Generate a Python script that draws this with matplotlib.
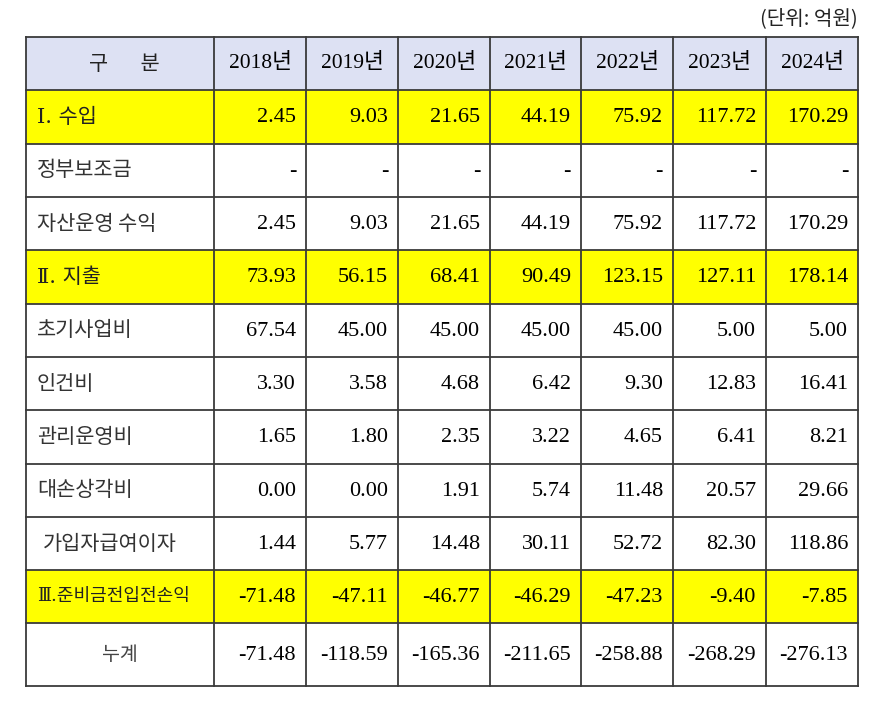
import matplotlib.pyplot as plt
from matplotlib.patches import Rectangle

years = ['2018년', '2019년', '2020년', '2021년', '2022년', '2023년', '2024년']
labels = ['Ⅰ. 수입', '정부보조금', '자산운영 수익', 'Ⅱ. 지출', '초기사업비', '인건비',
          '관리운영비', '대손상각비', '가입자급여이자', 'Ⅲ.준비금전입전손익', '누계']
income = [2.45, 9.03, 21.65, 44.19, 75.92, 117.72, 170.29]
subsidy = [None] * 7
asset_return = [2.45, 9.03, 21.65, 44.19, 75.92, 117.72, 170.29]
expense = [73.93, 56.15, 68.41, 90.49, 123.15, 127.11, 178.14]
startup = [67.54, 45.00, 45.00, 45.00, 45.00, 5.00, 5.00]
labor = [3.30, 3.58, 4.68, 6.42, 9.30, 12.83, 16.41]
admin = [1.65, 1.80, 2.35, 3.22, 4.65, 6.41, 8.21]
bad_debt = [0.00, 0.00, 1.91, 5.74, 11.48, 20.57, 29.66]
interest = [1.44, 5.77, 14.48, 30.11, 52.72, 82.30, 118.86]
pre_reserve = [-71.48, -47.11, -46.77, -46.29, -47.23, -9.40, -7.85]
cumulative = [-71.48, -118.59, -165.36, -211.65, -258.88, -268.29, -276.13]

rows = [income, subsidy, asset_return, expense, startup, labor, admin,
        bad_debt, interest, pre_reserve, cumulative]
highlight = [True, False, False, True, False, False, False, False, False, True, False]

# layout in pixels
W, H = 892, 719
col_edges = [26, 214, 306, 398, 490, 581, 673, 766, 858]
row_edges = [37, 90, 144, 197, 250, 304, 357, 410, 464, 517, 570, 623, 686]

num_font = 'Liberation Serif'
kr_font = ['Noto Sans CJK KR', 'DejaVu Sans']
mixed_font = ['Liberation Serif', 'Noto Sans CJK KR']
roman_font = ['DejaVu Serif', 'Noto Sans CJK KR']

fig = plt.figure(figsize=(W / 100, H / 100), dpi=100)
ax = fig.add_axes([0, 0, 1, 1])
ax.set_xlim(0, W)
ax.set_ylim(H, 0)
ax.axis('off')

# backgrounds
ax.add_patch(Rectangle((col_edges[0], row_edges[0]), col_edges[-1] - col_edges[0],
                       row_edges[1] - row_edges[0], facecolor='#dde1f3', edgecolor='none'))
for i, hl in enumerate(highlight):
    if hl:
        y0 = row_edges[i + 1]
        ax.add_patch(Rectangle((col_edges[0], y0), col_edges[-1] - col_edges[0],
                               row_edges[i + 2] - y0, facecolor='#ffff00', edgecolor='none'))

# grid lines
for x in col_edges:
    ax.plot([x, x], [row_edges[0], row_edges[-1]], color='#3a3a3a', lw=1.3)
for y in row_edges:
    ax.plot([col_edges[0], col_edges[-1]], [y, y], color='#3a3a3a', lw=1.3)

# header
ym = (row_edges[0] + row_edges[1]) / 2
ax.text((col_edges[0] + col_edges[1]) / 2 + 4, ym, '구       분', ha='center', va='center',
        fontsize=15, family=kr_font, color='#222222')
for j, yr in enumerate(years):
    ax.text((col_edges[j + 1] + col_edges[j + 2]) / 2, ym, yr, ha='center', va='center',
            fontsize=15.5, family=mixed_font, color='#000000')

# body
for i, (lab, vals) in enumerate(zip(labels, rows)):
    ym = (row_edges[i + 1] + row_edges[i + 2]) / 2
    if lab == '누계':
        ax.text((col_edges[0] + col_edges[1]) / 2, ym, lab, ha='center', va='center',
                fontsize=14, family=kr_font, color='#444444')
    elif lab.startswith('Ⅲ'):
        ax.text(col_edges[0] + 11, ym, lab, ha='left', va='center',
                fontsize=13, family=roman_font, color='#222222')
    elif lab.startswith('Ⅰ') or lab.startswith('Ⅱ'):
        ax.text(col_edges[0] + 11, ym, lab, ha='left', va='center',
                fontsize=15, family=roman_font, color='#222222')
    elif lab == '가입자급여이자':
        ax.text(col_edges[0] + 17, ym, lab, ha='left', va='center',
                fontsize=15, family=kr_font, color='#333333')
    else:
        ax.text(col_edges[0] + 11, ym, lab, ha='left', va='center',
                fontsize=15, family=kr_font, color='#333333')
    for j, v in enumerate(vals):
        s = '-' if v is None else f'{v:.2f}'
        ax.text(col_edges[j + 2] - 10, ym + 1, s, ha='right', va='center',
                fontsize=16, family=num_font, color='#000000')

ax.text(col_edges[-1], 19, '(단위: 억원)', ha='right', va='center',
        fontsize=14.5, family=kr_font, color='#222222')

fig.savefig('out.png', dpi=100)
